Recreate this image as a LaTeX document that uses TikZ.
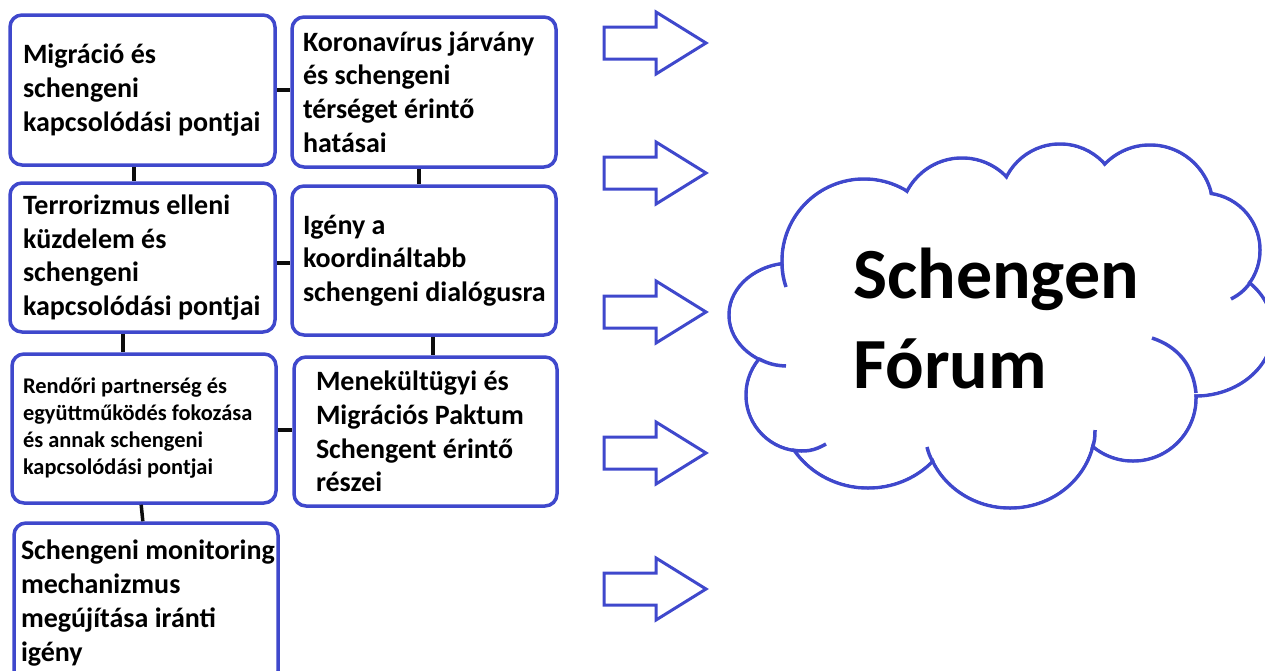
\documentclass[tikz,border=0pt]{standalone}
\usepackage{fontspec}
\setmainfont{Carlito}
\usetikzlibrary{positioning}
\definecolor{mainBlue}{RGB}{63,72,204}
\definecolor{linkBlack}{gray}{0.05}

\tikzset{
  topicBox/.style={draw=mainBlue, line width=3.5pt, rounded corners=12pt, fill=white,
    align=flush left, anchor=north west, inner xsep=2pt, inner ysep=2pt, outer sep=0pt,
    font=\fontsize{28}{33.8}\selectfont\bfseries},
  textPad/.style={execute at begin node={\leftskip=#1\relax}},
  smallText/.style={font=\fontsize{22.4}{27}\selectfont\bfseries},
  link/.style={draw=linkBlack, line width=3.5pt, shorten >=1.75pt, shorten <=1.75pt},
  blockArrow/.style={draw=mainBlue, line width=3pt, line join=miter},
  cloudLine/.style={draw=mainBlue, line width=3.5pt, fill=white},
  cloudStub/.style={draw=mainBlue, line width=3.5pt}
}

\begin{document}
\begin{tikzpicture}[x=1pt, y=-1pt]
    \useasboundingbox (0,0) rectangle (1265,670);
    \clip (0,0) rectangle (1265,670);

    % topic boxes, two columns
    \node[topicBox, textPad=11pt, text width=261pt, minimum width=265, minimum height=150] (migr) at (10,15) {Migráció és\\schengeni\\kapcsolódási pontjai};
    \node[topicBox, textPad=9pt, text width=260pt, minimum width=264, minimum height=150] (korona) at (292,17) {Koronavírus járvány\\és schengeni\\térséget érintő\\hatásai};
    \node[topicBox, textPad=11pt, text width=261pt, minimum width=265, minimum height=149] (terror) at (10,183) {Terrorizmus elleni\\küzdelem és\\schengeni\\kapcsolódási pontjai};
    \node[topicBox, textPad=9pt, text width=260pt, minimum width=264, minimum height=149] (igeny) at (292,186) {Igény a\\koordináltabb\\schengeni dialógusra};
    \node[topicBox, smallText, textPad=9pt, text width=260pt, minimum width=264, minimum height=149] (rendor) at (12,354) {Rendőri partnerség és\\együttműködés fokozása\\és annak schengeni\\kapcsolódási pontjai};
    \node[topicBox, textPad=20pt, text width=259pt, minimum width=263, minimum height=149] (menek) at (294,357) {Menekültügyi és\\Migrációs Paktum\\Schengent érintő\\részei};
    \node[topicBox, textPad=6pt, inner xsep=1pt, text width=262pt, minimum width=264, minimum height=160] (monitor) at (14,523) {Schengeni monitoring\\mechanizmus\\megújítása iránti\\igény};

    % links between the boxes
    \draw[link] (migr.east) -- (migr.east -| korona.west);
    \draw[link] (migr.south -| 134,0) -- (terror.north -| 134,0);
    \draw[link] (korona.south -| 419,0) -- (igeny.north -| 419,0);
    \draw[link] (terror.east |- 0,263) -- (igeny.west |- 0,263);
    \draw[link] (terror.south -| 123,0) -- (rendor.north -| 123,0);
    \draw[link] (igeny.south -| 433,0) -- (menek.north -| 433,0);
    \draw[link] (rendor.east |- 0,430) -- (menek.west |- 0,430);
    \draw[link] (rendor.south -| 141,0) -- (monitor.north -| 143,0);

    % block arrows
    \foreach \y in {43,173,312,453,589}
        \draw[blockArrow] (604,\y-16) -- (656,\y-16) -- (656,\y-31) -- (706,\y)
            -- (656,\y+31) -- (656,\y+16) -- (604,\y+16) -- cycle;

    % cloud: outline of the bumps, then white over the inner parts
    \foreach \cx/\cy/\rx/\ry in {792/315/63/52, 864/261/82/82, 962/220/62/62, 1060/204/60/60,
        1150/208/63/63, 1203/250/57/57, 1195/330/78/66, 1133/398/63/63,
        1010/428/85/80, 868/405/88/83, 802/395/56/56}
        \draw[cloudLine] (\cx,\cy) ellipse [x radius=\rx, y radius=\ry];
    \foreach \cx/\cy/\rx/\ry in {792/315/63/52, 864/261/82/82, 962/220/62/62, 1060/204/60/60,
        1150/208/63/63, 1203/250/57/57, 1195/330/78/66, 1133/398/63/63,
        1010/428/85/80, 868/405/88/83, 802/395/56/56}
        \fill[white] (\cx,\cy) ellipse [x radius=\rx-1.9, y radius=\ry-1.9];
    \fill[white] (792,315) -- (864,261) -- (962,220) -- (1060,204) -- (1150,208) -- (1203,250)
        -- (1195,330) -- (1133,398) -- (1010,428) -- (868,405) -- (802,395) -- cycle;

    % short inner strokes where the bumps overlap
    \draw[cloudStub] (782,264) to[bend right=8] (786,287);
    \draw[cloudStub] (759,359) to[bend right=12] (786,366);
    \draw[cloudStub] (1250,283) to[bend left=12] (1231,299);
    \draw[cloudStub] (1152,338) to[bend left=33] (1196,393);
    \draw[cloudStub] (1092,449) to[bend right=10] (1095,430);
    \draw[cloudStub] (933,462) to[bend left=8] (927,447);
    \draw[cloudStub] (792,450) to[bend right=20] (826,444);

    \node[anchor=base west, align=left, inner sep=0pt, font=\fontsize{72}{90}\selectfont\bfseries] (forum) at (853,388) {Schengen\\Fórum};
\end{tikzpicture}
\end{document}
